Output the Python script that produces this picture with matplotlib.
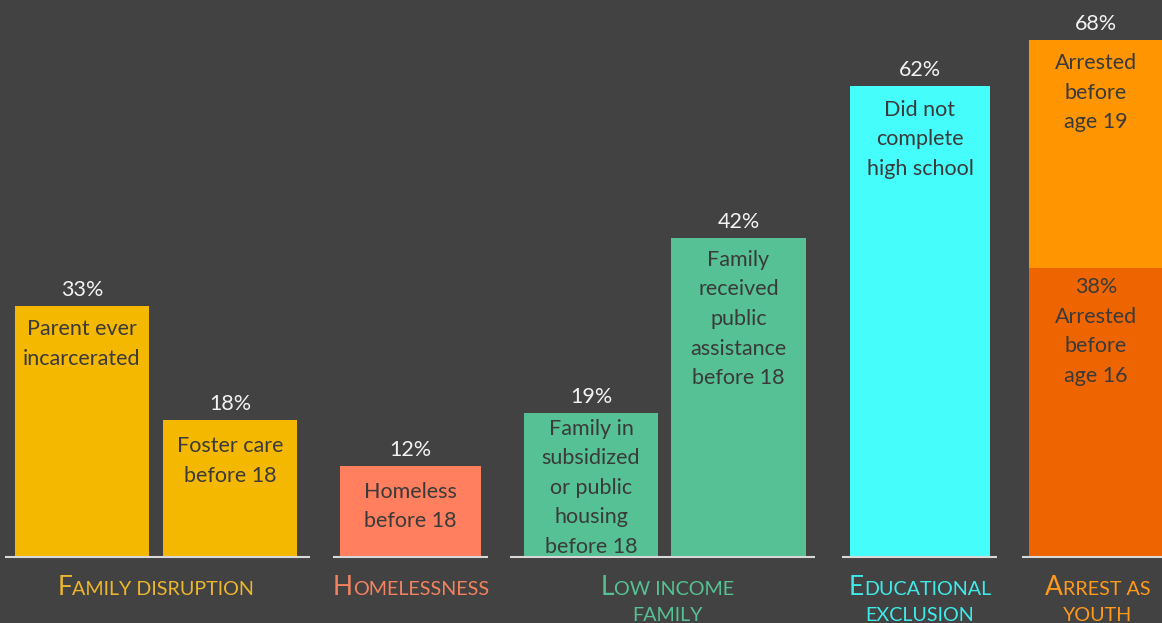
import matplotlib
matplotlib.use("Agg")
import matplotlib.pyplot as plt

# ---- data ----
bar_labels = ["Parent ever\nincarcerated", "Foster care\nbefore 18", "Homeless\nbefore 18",
              "Family in\nsubsidized\nor public\nhousing\nbefore 18",
              "Family\nreceived\npublic\nassistance\nbefore 18",
              "Did not\ncomplete\nhigh school", "Arrested\nbefore\nage 19"]
bar_values = [33, 18, 12, 19, 42, 62, 68]
bar_groups = [0, 0, 1, 2, 2, 3, 4]
inner_label = "38%\nArrested\nbefore\nage 16"
inner_value = 38

group_names = [["Family disruption"], ["Homelessness"], ["Low income", "family"],
               ["Educational", "exclusion"], ["Arrest as", "youth"]]

# ---- styles / layout ----
bar_colors = ["#F5B800", "#F5B800", "#FF7F5E", "#55C194", "#55C194", "#45FDFB", "#FF9500"]
inner_color = "#EE6500"
group_colors = ["#EDB62C", "#F4825F", "#55C194", "#3FEBEA", "#FF9A1A"]
bar_centers = [82, 230, 410.5, 591, 738.5, 920, 1096]
bar_widths = [134, 134, 141, 134, 135, 140, 134]
text_pad = [13, 16, 16, 6, 12, 14, 13]
inner_pad = 9
line_spans = [(5, 310), (333, 488), (510, 815), (842, 997), (1022, 1162)]
group_centers = [156, 411, 667, 920, 1098]

BG = "#424242"
TXT_DARK = "#3A3A3A"
FONT = "Lato"
PX = 7.6            # pixels per percent
BASE = 66           # baseline in px from bottom
IN_FS = 15.5
IN_LS = 1.6

W, H = 1162, 623
fig = plt.figure(figsize=(W / 100, H / 100), dpi=100)
fig.patch.set_facecolor(BG)
ax = fig.add_axes([0, 0, 1, 1])
ax.set_facecolor(BG)
ax.set_xlim(0, W)
ax.set_ylim(-BASE / PX, (H - BASE) / PX)
ax.axis("off")

def px2y(p):
    return p / PX

# bars
ax.bar(bar_centers, bar_values, width=bar_widths, color=bar_colors, align="center", zorder=2)
ax.bar([bar_centers[-1]], [inner_value], width=[bar_widths[-1]], color=inner_color, zorder=3)

for x, v, lab, pad in zip(bar_centers, bar_values, bar_labels, text_pad):
    ax.text(x, v + px2y(16), f"{v}%", ha="center", va="center", color="#F2F2F2",
            fontsize=15.5, family=FONT, zorder=5)
    ax.text(x, v - px2y(pad), lab, ha="center", va="top", color=TXT_DARK,
            fontsize=IN_FS, family=FONT, linespacing=IN_LS, zorder=5)
ax.text(bar_centers[-1], inner_value - px2y(inner_pad), inner_label, ha="center", va="top",
        color=TXT_DARK, fontsize=IN_FS, family=FONT, linespacing=IN_LS, zorder=5)

# baselines
for x0, x1 in line_spans:
    ax.plot([x0, x1], [0, 0], color="#D8D8D8", lw=1.5, zorder=4, solid_capstyle="butt")

# small-caps group labels
fig.canvas.draw()
r = fig.canvas.get_renderer()
BIG, SMALL = 19, 14.2

def smallcaps_line(xc, ybase, line, color, first_big):
    segs = []
    if first_big:
        segs.append((line[0].upper(), BIG))
        rest = line[1:]
    else:
        rest = line
    if rest:
        segs.append((rest.upper(), SMALL))
    objs = []
    total = 0
    for s, fs in segs:
        t = ax.text(0, ybase, s, ha="left", va="baseline", color=color, fontsize=fs,
                    family=FONT, zorder=5)
        w = t.get_window_extent(r).width
        objs.append((t, w))
        total += w
    x = xc - total / 2
    for t, w in objs:
        t.set_x(x)
        x += w

for gi, lines in enumerate(group_names):
    for li, line in enumerate(lines):
        yb = px2y(-(595 - 557) - li * 26)
        smallcaps_line(group_centers[gi], yb, line, group_colors[gi], li == 0)

fig.savefig("out.png", dpi=100, facecolor=BG)
